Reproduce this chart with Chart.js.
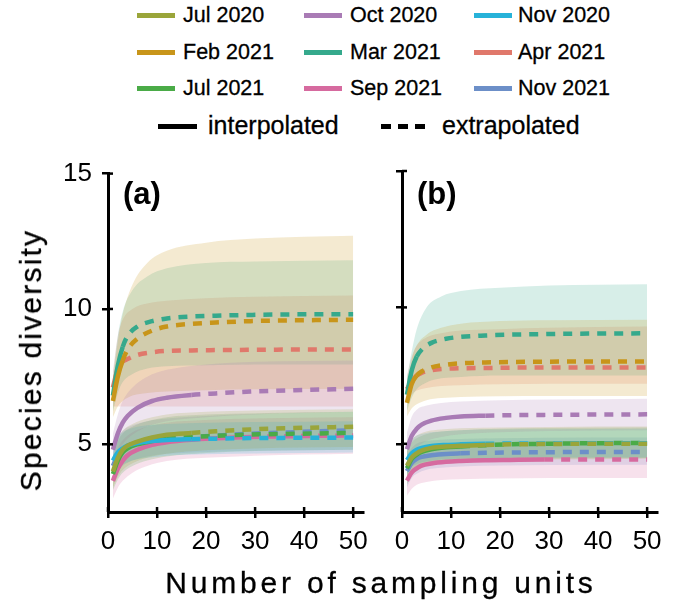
<!DOCTYPE html>
<html>
<head>
<meta charset="utf-8">
<script src="https://cdn.jsdelivr.net/npm/chart.js@4/dist/chart.umd.min.js"></script>
<style>
  html, body { margin: 0; padding: 0; background: #fff; }
  body { width: 676px; height: 609px; position: relative; overflow: hidden;
         font-family: 'Liberation Sans', Arial, Helvetica, sans-serif; color: #000; }
  canvas { position: absolute; }
  .lg { position: absolute; white-space: nowrap; line-height: 1; -webkit-text-stroke: 0.3px #000; }
  .sw { position: absolute; height: 5px; }
  .panel { position: absolute; font-weight: bold; font-size: 31px; line-height: 1; }
  .title { position: absolute; font-size: 30px; white-space: nowrap; line-height: 1; -webkit-text-stroke: 0.3px #000; }
</style>
</head>
<body>
<div id="legend"></div>
<canvas id="chartA" width="376" height="420" style="left:0;top:148px"></canvas>
<canvas id="chartB" width="290" height="420" style="left:380px;top:148px"></canvas>
<div class="panel" style="left:123px;top:178px">(a)</div>
<div class="panel" style="left:417px;top:178px">(b)</div>
<div class="title" style="left:31px;top:360px;letter-spacing:2.2px;transform:translate(-50%,-50%) rotate(-90deg)">Species diversity</div>
<div class="title" style="left:381px;top:583px;letter-spacing:3.8px;transform:translate(-50%,-50%)">Number of sampling units</div>
<script>
// sampling periods, in legend order (3 per row)
const months = ['Jul 2020', 'Oct 2020', 'Nov 2020', 'Feb 2021', 'Mar 2021', 'Apr 2021', 'Jul 2021', 'Sep 2021', 'Nov 2021'];
const colors = ['#9aa53a', '#a97bb5', '#27b2d9', '#c8951a', '#35a98c', '#e0786b', '#4aab47', '#d66a9f', '#6c8fc8'];

const units = [1, 2, 3, 4, 6, 9, 12, 17, 22, 29, 38, 50];   // x for curves
const bandUnits = [1, 2, 3, 5, 8, 12, 20, 30, 50];           // x for confidence bands
const xTicks = [0, 10, 20, 30, 40, 50];
const yTicks = [5, 10, 15];

// ---- panel (a) ----
// last observed sampling unit (solid up to here, dashed after)
const obsA = [17, 17, 17, 3, 3, 3, 12, 29, 12];
const meanA = [
  [4.0, 4.5, 4.8, 4.95, 5.1, 5.25, 5.35, 5.42, 5.48, 5.55, 5.6, 5.65],
  [4.8, 5.4, 5.8, 6.05, 6.35, 6.6, 6.72, 6.82, 6.88, 6.95, 7.0, 7.05],
  [4.4, 4.7, 4.85, 4.95, 5.05, 5.12, 5.16, 5.19, 5.21, 5.23, 5.24, 5.25],
  [6.6, 7.5, 8.1, 8.5, 8.9, 9.2, 9.35, 9.45, 9.5, 9.55, 9.58, 9.6],
  [6.8, 7.9, 8.6, 9.0, 9.35, 9.55, 9.65, 9.72, 9.75, 9.78, 9.8, 9.8],
  [7.1, 7.8, 8.05, 8.15, 8.3, 8.4, 8.45, 8.47, 8.48, 8.49, 8.5, 8.5],
  [3.9, 4.4, 4.7, 4.85, 5.0, 5.12, 5.2, 5.27, 5.31, 5.36, 5.39, 5.42],
  [3.65, 4.1, 4.4, 4.6, 4.8, 4.98, 5.08, 5.17, 5.22, 5.27, 5.3, 5.33],
  [4.2, 4.6, 4.8, 4.95, 5.05, 5.15, 5.2, 5.27, 5.32, 5.39, 5.45, 5.52]
];
const loA = [
  [3.4, 3.8, 4.05, 4.3, 4.5, 4.65, 4.78, 4.85, 4.9],
  [4.2, 4.7, 5.0, 5.35, 5.65, 5.85, 6.0, 6.1, 6.2],
  [3.9, 4.1, 4.25, 4.4, 4.5, 4.58, 4.63, 4.66, 4.7],
  [6.0, 6.4, 6.6, 6.8, 6.9, 6.95, 7.0, 7.03, 7.05],
  [6.2, 6.9, 7.3, 7.6, 7.8, 7.88, 7.92, 7.95, 7.95],
  [6.4, 6.4, 6.4, 6.4, 6.4, 6.4, 6.4, 6.4, 6.4],
  [3.3, 3.7, 3.95, 4.2, 4.4, 4.55, 4.68, 4.75, 4.8],
  [3.0, 3.4, 3.65, 3.95, 4.2, 4.38, 4.5, 4.58, 4.65],
  [3.6, 4.0, 4.2, 4.4, 4.55, 4.65, 4.72, 4.76, 4.8]
];
const hiA = [
  [4.6, 5.2, 5.5, 5.75, 5.95, 6.1, 6.2, 6.25, 6.3],
  [5.4, 6.1, 6.6, 7.1, 7.5, 7.75, 7.95, 8.05, 8.1],
  [4.9, 5.3, 5.45, 5.6, 5.7, 5.75, 5.8, 5.82, 5.85],
  [7.3, 8.8, 9.8, 10.9, 11.7, 12.15, 12.45, 12.6, 12.7],
  [7.5, 9.0, 9.9, 10.7, 11.2, 11.5, 11.7, 11.75, 11.8],
  [7.7, 9.0, 9.6, 10.0, 10.2, 10.3, 10.4, 10.45, 10.5],
  [4.5, 5.1, 5.4, 5.65, 5.85, 6.0, 6.1, 6.15, 6.2],
  [4.3, 4.85, 5.15, 5.45, 5.65, 5.8, 5.9, 5.95, 6.0],
  [4.8, 5.25, 5.5, 5.7, 5.85, 5.95, 6.05, 6.12, 6.2]
];

// ---- panel (b) ----
const obsB = [17, 17, 17, 3, 3, 3, 12, 29, 12];
const meanB = [
  [4.2, 4.5, 4.65, 4.75, 4.85, 4.9, 4.93, 4.96, 4.98, 4.99, 5.0, 5.0],
  [4.8, 5.3, 5.55, 5.7, 5.85, 5.95, 6.0, 6.03, 6.05, 6.06, 6.07, 6.08],
  [4.4, 4.65, 4.78, 4.85, 4.92, 4.96, 4.98, 5.0, 5.01, 5.01, 5.02, 5.02],
  [6.5, 7.2, 7.5, 7.65, 7.8, 7.9, 7.95, 7.98, 8.0, 8.01, 8.02, 8.02],
  [6.8, 7.7, 8.2, 8.45, 8.7, 8.85, 8.92, 8.97, 9.0, 9.02, 9.04, 9.05],
  [7.0, 7.3, 7.5, 7.6, 7.7, 7.75, 7.77, 7.78, 7.79, 7.8, 7.8, 7.8],
  [4.1, 4.45, 4.6, 4.7, 4.8, 4.87, 4.9, 4.95, 4.98, 5.0, 5.02, 5.03],
  [3.65, 3.95, 4.1, 4.2, 4.28, 4.34, 4.37, 4.4, 4.41, 4.42, 4.42, 4.42],
  [4.0, 4.3, 4.45, 4.52, 4.58, 4.63, 4.65, 4.67, 4.68, 4.69, 4.7, 4.7]
];
const loB = [
  [3.6, 3.9, 4.05, 4.2, 4.3, 4.35, 4.4, 4.42, 4.45],
  [4.2, 4.6, 4.85, 5.1, 5.25, 5.35, 5.42, 5.47, 5.5],
  [3.9, 4.15, 4.25, 4.35, 4.42, 4.46, 4.48, 4.5, 4.5],
  [6.0, 6.3, 6.45, 6.6, 6.68, 6.72, 6.74, 6.75, 6.75],
  [6.2, 6.7, 7.0, 7.25, 7.4, 7.45, 7.5, 7.5, 7.5],
  [6.5, 6.8, 6.95, 7.05, 7.12, 7.15, 7.18, 7.2, 7.2],
  [3.5, 3.85, 4.0, 4.2, 4.3, 4.38, 4.43, 4.46, 4.48],
  [3.1, 3.35, 3.5, 3.6, 3.67, 3.7, 3.73, 3.75, 3.75],
  [3.4, 3.75, 3.9, 4.05, 4.12, 4.17, 4.2, 4.22, 4.23]
];
const hiB = [
  [4.8, 5.15, 5.3, 5.45, 5.52, 5.57, 5.6, 5.62, 5.63],
  [5.4, 6.0, 6.25, 6.4, 6.5, 6.55, 6.6, 6.62, 6.65],
  [4.9, 5.15, 5.3, 5.4, 5.45, 5.5, 5.52, 5.53, 5.55],
  [7.0, 8.1, 8.6, 9.0, 9.25, 9.4, 9.5, 9.53, 9.55],
  [7.4, 8.4, 9.2, 10.0, 10.4, 10.6, 10.72, 10.8, 10.85],
  [7.5, 8.2, 8.6, 8.9, 9.05, 9.15, 9.2, 9.25, 9.3],
  [4.7, 5.05, 5.2, 5.35, 5.45, 5.5, 5.55, 5.58, 5.6],
  [4.2, 4.55, 4.7, 4.85, 4.95, 5.0, 5.05, 5.08, 5.1],
  [4.6, 4.85, 5.0, 5.1, 5.15, 5.18, 5.2, 5.22, 5.23]
];

// ---- legend (html) ----
const legend = document.getElementById('legend');
const colX = [137, 304, 474], txtX = [183, 350, 518], rowY = [15, 52, 88];
months.forEach((m, i) => {
  const r = Math.floor(i / 3), c = i % 3;
  const sw = document.createElement('div');
  sw.className = 'sw';
  sw.style.cssText = `left:${colX[c]}px;top:${rowY[r] - 2}px;width:38px;background:${colors[i]}`;
  legend.appendChild(sw);
  const t = document.createElement('div');
  t.className = 'lg';
  t.style.cssText = `left:${txtX[c]}px;top:${rowY[r] - 10}px;font-size:21.5px`;
  t.textContent = m;
  legend.appendChild(t);
});
const addSw = (l, w) => {
  const d = document.createElement('div');
  d.className = 'sw';
  d.style.cssText = `left:${l}px;top:124px;width:${w}px;background:#000`;
  legend.appendChild(d);
};
addSw(158, 39);
[381, 398, 415].forEach(l => addSw(l, 10));
[['interpolated', 208], ['extrapolated', 442]].forEach(([s, l]) => {
  const t = document.createElement('div');
  t.className = 'lg';
  t.style.cssText = `left:${l}px;top:113px;font-size:25px`;
  t.textContent = s;
  legend.appendChild(t);
});

// ---- charts ----
const rgba = (hex, a) => {
  const n = parseInt(hex.slice(1), 16);
  return `rgba(${n >> 16},${(n >> 8) & 255},${n & 255},${a})`;
};
const pts = (xs, ys) => xs.map((x, i) => ({ x, y: ys[i] }));

// little tick stubs on the inner side of the axes
const innerTicks = {
  id: 'innerTicks',
  afterDraw(chart) {
    const { ctx, chartArea: a, scales: { x, y } } = chart;
    ctx.save();
    ctx.strokeStyle = '#000';
    ctx.lineWidth = 2.5;
    x.ticks.forEach(t => {
      const px = x.getPixelForValue(t.value);
      ctx.beginPath(); ctx.moveTo(px, a.bottom); ctx.lineTo(px, a.bottom - 5); ctx.stroke();
    });
    y.ticks.forEach(t => {
      const py = y.getPixelForValue(t.value);
      ctx.beginPath(); ctx.moveTo(a.left, py); ctx.lineTo(a.left + 5, py); ctx.stroke();
    });
    ctx.restore();
  }
};

function makeChart(id, mean, lo, hi, obs, yWidth, showY, padRight) {
  const datasets = [];
  months.forEach((m, i) => {
    datasets.push({ label: m + ' hi', data: pts(bandUnits, hi[i]), fill: '+1',
      backgroundColor: rgba(colors[i], 0.2), borderWidth: 0, pointRadius: 0, order: 2,
      cubicInterpolationMode: 'monotone' });
    datasets.push({ label: m + ' lo', data: pts(bandUnits, lo[i]), fill: false,
      borderWidth: 0, pointRadius: 0, order: 2, cubicInterpolationMode: 'monotone' });
  });
  months.forEach((m, i) => {
    datasets.push({ label: m, data: pts(units, mean[i]), fill: false,
      borderColor: colors[i], borderWidth: 4.5, pointRadius: 0, borderCapStyle: 'butt',
      cubicInterpolationMode: 'monotone', order: 1,
      segment: { borderDash: c => c.p0.parsed.x >= obs[i] ? [9, 8] : [] } });
  });
  const tickFont = { family: "'Liberation Sans', Arial, sans-serif", size: 26 };
  return new Chart(document.getElementById(id), {
    type: 'line',
    data: { datasets },
    options: {
      responsive: false, animation: false, devicePixelRatio: 1, events: [],
      layout: { padding: { top: 23, right: padRight, left: 0, bottom: 0 } },
      plugins: { legend: { display: false }, tooltip: { enabled: false } },
      scales: {
        x: {
          type: 'linear', min: 0, max: 52,
          afterBuildTicks: s => { s.ticks = xTicks.map(v => ({ value: v })); },
          afterFit: s => { s.height = 56; },
          ticks: { color: '#000', font: tickFont, padding: 8, maxRotation: 0 },
          grid: { drawOnChartArea: false, drawTicks: true, tickLength: 6, color: '#000', lineWidth: 2.5 },
          border: { display: true, color: '#000', width: 3 }
        },
        y: {
          type: 'linear', min: 2.5, max: 15,
          afterBuildTicks: s => { s.ticks = yTicks.map(v => ({ value: v })); },
          afterFit: s => { s.width = yWidth; },
          ticks: { display: showY, color: '#000', font: tickFont, padding: 10 },
          grid: { drawOnChartArea: false, drawTicks: true, tickLength: 6, color: '#000', lineWidth: 2.5 },
          border: { display: true, color: '#000', width: 3 }
        }
      }
    },
    plugins: [innerTicks]
  });
}

makeChart('chartA', meanA, loA, hiA, obsA, 108, true, 10);
makeChart('chartB', meanB, loB, hiB, obsB, 22, false, 11);
</script>
</body>
</html>
